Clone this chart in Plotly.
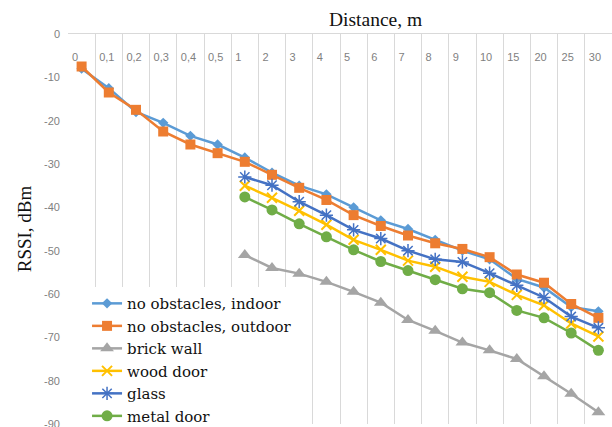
import plotly.graph_objects as go

distance_labels = ["0", "0,1", "0,2", "0,3", "0,4", "0,5", "1", "2", "3", "4",
                   "5", "6", "7", "8", "9", "10", "15", "20", "25", "30"]

indoor = [-8, -12.5, -18, -20.5, -23.5, -25.5, -28.5, -32, -35, -37,
          -40, -43, -45, -47.5, -50, -52, -56.5, -58.5, -63, -64]
outdoor = [-7.5, -13.5, -17.5, -22.5, -25.5, -27.5, -29.5, -32.5, -35.5, -38.3,
           -41.8, -44.3, -46.5, -48.3, -49.6, -51.5, -55.5, -57.4, -62.3, -65.5]
brick_wall = [None] * 6 + [-51, -54, -55.3, -57.2, -59.5, -62, -66, -68.5,
                           -71.2, -73, -75, -79, -83, -87.3]
wood_door = [None] * 6 + [-35, -37.8, -40.8, -44, -47.5, -49.8, -52.3, -53.7,
                          -56, -57.2, -60.2, -62.6, -66.8, -69.8]
glass = [None] * 6 + [-33, -34.9, -38.7, -41.8, -45.2, -47.2, -50, -52,
                      -52.6, -55.2, -58, -60.8, -65.2, -67.8]
metal_door = [None] * 6 + [-37.6, -40.6, -43.8, -46.8, -49.8, -52.5, -54.6, -56.7,
                           -58.8, -59.7, -63.8, -65.5, -69, -73]

y_ticks = [0, -10, -20, -30, -40, -50, -60, -70, -80, -90]

xpos = list(range(len(distance_labels)))
x_range = [-0.5, len(distance_labels) - 0.5]
band_edges = [i - 0.5 for i in xpos]

SERIF = "Liberation Serif"
SANS = "Liberation Sans"

series = [
    ("no obstacles, indoor", indoor, "#5B9BD5", dict(symbol="diamond", size=8)),
    ("no obstacles, outdoor", outdoor, "#ED7D31", dict(symbol="square", size=10)),
    ("brick wall", brick_wall, "#A5A5A5", dict(symbol="triangle-up", size=12)),
    ("wood door", wood_door, "#FFC000", dict(symbol="x-thin", size=10, line=dict(width=2, color="#FFC000"))),
    ("glass", glass, "#4472C4", dict(symbol="asterisk", size=11, line=dict(width=1.5, color="#4472C4"))),
    ("metal door", metal_door, "#70AD47", dict(symbol="circle", size=11)),
]

fig = go.Figure()
for name, vals, color, mk in series:
    mk = dict(mk)
    mk.setdefault("color", color)
    fig.add_trace(go.Scatter(
        x=xpos, y=vals, name=name, mode="lines+markers",
        line=dict(color=color, width=2.5),
        marker=mk, connectgaps=False,
    ))

# carrier for the category-label axis (draws nothing)
fig.add_trace(go.Scatter(x=xpos, y=[None] * len(xpos), xaxis="x2", yaxis="y",
                         mode="lines", showlegend=False, hoverinfo="skip"))

fig.update_layout(
    width=612, height=427,
    margin=dict(l=68, r=0, t=34, b=3, autoexpand=False),
    paper_bgcolor="white", plot_bgcolor="white",
    showlegend=True,
    legend=dict(
        x=0.035, y=0.351, xanchor="left", yanchor="top",
        bgcolor="white",
        font=dict(family="DejaVu Serif", size=15, color="#111111"),
        tracegroupgap=0, itemwidth=30,
    ),
    annotations=[dict(
        text="Distance, m", xref="paper", yref="paper",
        x=0.565, y=1, xanchor="center", yanchor="bottom", yshift=2,
        showarrow=False,
        font=dict(family=SERIF, size=19.5, color="#111111"),
    )],
    xaxis=dict(
        side="top", range=x_range, automargin=False,
        tickmode="array", tickvals=band_edges, showticklabels=False,
        showgrid=True, gridcolor="#D9D9D9", gridwidth=1,
        showline=True, linecolor="#D9D9D9", linewidth=1,
        zeroline=False, ticks="",
    ),
    xaxis2=dict(
        overlaying="x", anchor="free", position=0.925, side="top",
        range=x_range, automargin=False,
        tickmode="array", tickvals=band_edges, ticktext=distance_labels,
        ticklabelposition="outside right", ticklabelshift=4,
        showgrid=False, showline=False, zeroline=False, ticks="",
        tickfont=dict(family=SANS, size=11, color="#7F7F7F"),
    ),
    yaxis=dict(
        range=[-90, 0], tickmode="array", tickvals=y_ticks, automargin=False,
        ticktext=[str(v) for v in y_ticks], ticklabeloverflow="allow",
        showgrid=False, zeroline=False, showline=False, ticks="",
        ticklabelstandoff=7,
        tickfont=dict(family=SANS, size=11, color="#7F7F7F"),
        title=dict(text="RSSI, dBm", standoff=7,
                   font=dict(family=SERIF, size=19, color="#111111")),
    ),
)

fig.write_html("out.html", config={"displayModeBar": False},
               post_script="document.body.style.margin='0px';")
